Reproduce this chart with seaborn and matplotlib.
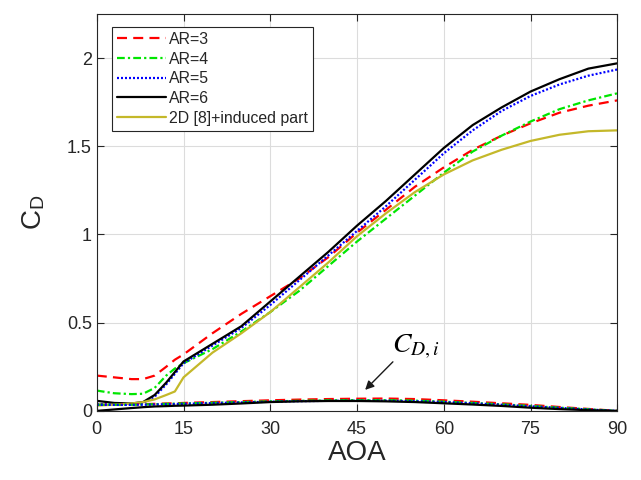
import matplotlib
matplotlib.use("Agg")
import matplotlib.pyplot as plt
import seaborn as sns

# Angle of attack (deg)
aoa = [0, 3, 6, 8, 10, 12, 13.5, 15, 20, 25, 30, 35, 40, 45, 50, 55, 60, 65, 70, 75, 80, 85, 90]

# Total drag coefficient for each aspect ratio
cd_ar3 = [0.20, 0.19, 0.18, 0.18, 0.20, 0.25, 0.29, 0.32, 0.44, 0.55, 0.65, 0.75, 0.87, 1.01, 1.14, 1.27, 1.38, 1.48, 1.56, 1.63, 1.69, 1.73, 1.76]
cd_ar4 = [0.115, 0.10, 0.095, 0.097, 0.13, 0.20, 0.24, 0.27, 0.35, 0.45, 0.56, 0.68, 0.82, 0.96, 1.09, 1.22, 1.35, 1.47, 1.56, 1.64, 1.71, 1.76, 1.80]
cd_ar5 = [0.04, 0.036, 0.036, 0.045, 0.08, 0.15, 0.21, 0.27, 0.37, 0.47, 0.60, 0.74, 0.88, 1.02, 1.16, 1.31, 1.46, 1.59, 1.70, 1.785, 1.85, 1.90, 1.935]
cd_ar6 = [0.057, 0.045, 0.042, 0.05, 0.09, 0.16, 0.22, 0.28, 0.38, 0.48, 0.62, 0.76, 0.90, 1.05, 1.19, 1.34, 1.49, 1.62, 1.72, 1.81, 1.88, 1.94, 1.97]
cd_2d = [0.03, 0.035, 0.042, 0.05, 0.065, 0.09, 0.11, 0.19, 0.33, 0.44, 0.56, 0.70, 0.84, 0.99, 1.12, 1.24, 1.34, 1.42, 1.48, 1.53, 1.565, 1.585, 1.59]

# Induced drag coefficient for each aspect ratio
cdi_ar3 = [0.035, 0.035, 0.036, 0.038, 0.04, 0.042, 0.043, 0.045, 0.05, 0.055, 0.06, 0.064, 0.067, 0.069, 0.07, 0.067, 0.06, 0.052, 0.043, 0.034, 0.022, 0.011, 0.0]
cdi_ar4 = [0.035, 0.035, 0.035, 0.036, 0.038, 0.040, 0.041, 0.042, 0.046, 0.05, 0.054, 0.057, 0.06, 0.061, 0.061, 0.058, 0.052, 0.045, 0.037, 0.028, 0.018, 0.009, 0.0]
cdi_ar5 = [0.034, 0.034, 0.034, 0.035, 0.036, 0.038, 0.039, 0.04, 0.044, 0.048, 0.052, 0.055, 0.057, 0.058, 0.058, 0.055, 0.05, 0.043, 0.035, 0.026, 0.017, 0.008, 0.0]
cdi_ar6 = [0.0, 0.008, 0.016, 0.021, 0.025, 0.027, 0.029, 0.03, 0.035, 0.042, 0.05, 0.054, 0.056, 0.056, 0.054, 0.05, 0.043, 0.036, 0.028, 0.018, 0.01, 0.004, 0.0]

labels = ["AR=3", "AR=4", "AR=5", "AR=6", "2D [8]+induced part"]
x_ticks = [0, 15, 30, 45, 60, 75, 90]
y_ticks = [0, 0.5, 1, 1.5, 2]
y_tick_labels = ["0", "0.5", "1", "1.5", "2"]

sns.set_style("ticks")
plt.rcParams["font.family"] = ["Liberation Sans", "DejaVu Sans"]
plt.rcParams["mathtext.fontset"] = "stix"

fig = plt.figure(figsize=(6.41, 4.80), dpi=100)
ax = fig.add_axes([0.151, 0.144, 0.812, 0.827])

lw = 1.6
styles = [
    ("#ff0000", (0, (4.5, 2.8))),
    ("#00e600", (0, (3.5, 1.4, 1.0, 1.4))),
    ("#0000ff", (0, (0.9, 0.9))),
    ("#000000", "-"),
]
totals = [cd_ar3, cd_ar4, cd_ar5, cd_ar6]
induced = [cdi_ar3, cdi_ar4, cdi_ar5, cdi_ar6]

for (color, ls), y, lab in zip(styles, totals, labels[:4]):
    sns.lineplot(x=aoa, y=y, ax=ax, color=color, linestyle=ls, lw=lw, label=lab)
sns.lineplot(x=aoa, y=cd_2d, ax=ax, color="#c4b82a", linestyle="-", lw=lw, label=labels[4])

for (color, ls), y in zip(styles, induced):
    sns.lineplot(x=aoa, y=y, ax=ax, color=color, linestyle=ls, lw=lw)

ax.set_xlim(0, 90)
ax.set_ylim(0, 2.25)
ax.set_xticks(x_ticks)
ax.set_yticks(y_ticks)
ax.set_yticklabels(y_tick_labels)
ax.grid(True, color="#dcdcdc", lw=0.8)
ax.set_axisbelow(True)
for s in ax.spines.values():
    s.set_color("#262626")
    s.set_linewidth(0.8)
ax.tick_params(direction="in", length=5, width=0.8, top=True, right=True,
               labelsize=13, colors="#262626", labelcolor="#262626")
ax.tick_params(axis="x", pad=7)
ax.set_xlabel("AOA", fontsize=20, color="#262626", labelpad=2)
ax.set_ylabel(r"C$_\mathregular{D}$", fontsize=20, color="#262626", labelpad=14)

# Label for the induced-drag curves, with an arrow pointing at them
ax.text(51.0, 0.33, r"$C_{D,i}$", fontsize=20, ha="left", va="baseline", color="#000000")
ax.annotate("", xy=(46.4, 0.119), xytext=(51.2, 0.278),
            arrowprops=dict(arrowstyle="-|>", color="#1a1a1a", lw=1.0,
                            mutation_scale=13, shrinkA=0, shrinkB=0))

leg = ax.legend(loc="upper left", bbox_to_anchor=(0.029, 0.967), borderaxespad=0,
                fontsize=11.4, handlelength=3.1, handletextpad=0.2, labelspacing=0.3,
                frameon=True, fancybox=False, framealpha=1, edgecolor="#262626",
                borderpad=0.3)
leg.get_frame().set_linewidth(0.8)

fig.savefig("out.png", dpi=100)
